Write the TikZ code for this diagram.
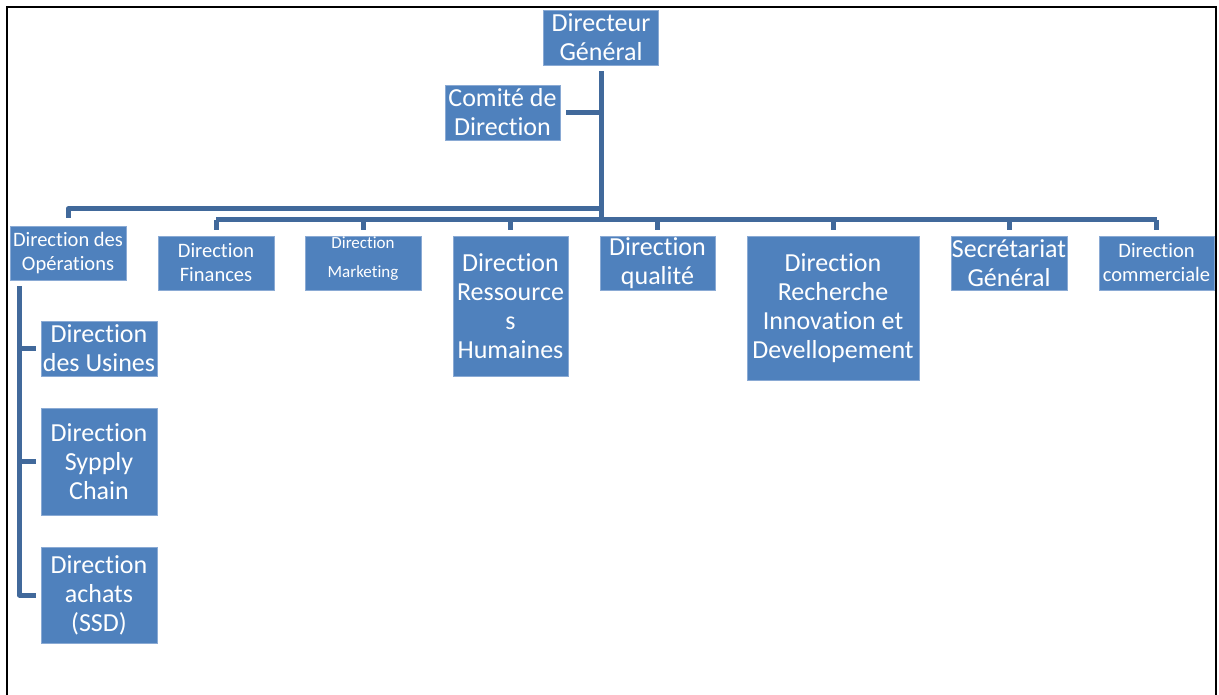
\documentclass[tikz,border=0pt]{standalone}
\usepackage{fontspec}
\setmainfont{Carlito}[RawFeature={-liga;-clig;-dlig;-calt}]
\usetikzlibrary{calc}
\definecolor{boxfill}{HTML}{4F81BD}
\definecolor{boxline}{HTML}{8AAAD4}
\definecolor{linkcol}{HTML}{41699B}
\begin{document}
\begin{tikzpicture}[x=1pt,y=-1pt,
  unit/.style={draw=boxline, line width=0.8pt, fill=boxfill, text=white,
    inner sep=0pt, align=center, font=\fontsize{26}{29}\selectfont},
  small/.style={font=\fontsize{20.5}{24}\selectfont},
  tiny/.style={font=\fontsize{17}{20}\selectfont},
  sz/.style n args={2}{minimum width=#1pt, minimum height=#2pt},
  conn/.style={draw=linkcol, line width=5pt, line join=round},
  frame/.style={draw=black, line width=1.6pt}]
\useasboundingbox (0,0) rectangle (1219,695);
\draw[frame] (7,695) -- (7,7) -- (1216,7) -- (1216,695);

% top of the chart
\node[unit, sz={115}{55}] (dg) at (601,37.5) {Directeur\\Général};
\node[unit, sz={115}{55}] (comite) at (502.5,112.5) {Comité de\\Direction};

% first level
\node[unit, small, sz={116}{54}] (ops) at (68,253) {Direction des\\Opérations};
\node[unit, small, sz={116}{54}] (fin) at (216,263) {Direction\\Finances};
\node[unit, tiny, sz={116}{54}] (mkt) at (363,263)
  {Direction\\[9pt]Marketing\rule[-12pt]{0pt}{12pt}};
\node[unit, sz={115}{140}] (rh) at (510.5,306) {Direction\\Ressource\\s\\Humaines};
\node[unit, sz={115}{54}] (qual) at (657.5,263) {Direction\\qualité};
\node[unit, sz={172}{144}] (rech) at (833,308) {Direction\\Recherche\\Innovation et\\Devellopement};
\node[unit, sz={116}{54}] (sec) at (1009,263) {Secrétariat\\Général};
\node[unit, small, sz={115}{54}] (com) at (1156.5,263) {Direction\\commerciale};

% operations column
\node[unit, sz={116}{55}] (usi) at (99,348.5) {Direction\\des Usines};
\node[unit, sz={116}{107}] (sup) at (99,461.5) {Direction\\Sypply\\Chain};
\node[unit, sz={116}{96}] (ach) at (99,595) {Direction\\achats\\(SSD)};

% connectors
\coordinate (jA) at (601,209);
\coordinate (jB) at (601,220);
\draw[conn, shorten <=6pt] (dg.south) -- (jB);
\draw[conn, shorten <=6pt] (comite.east) -- (comite.east -| jA);
\draw[conn, shorten >=8pt] (jA) -| (ops.north);
\draw[conn] (fin.north |- jB) -- (com.north |- jB);
\foreach \n in {fin,mkt,rh,qual,rech,sec,com}
  \draw[conn, shorten >=6pt] (\n.north |- jB) -- (\n.north);

\coordinate (colTop) at ($(ops.south west)+(10,6)$);
\draw[conn] (colTop) |- ($(ach.west)+(-5,0)$);
\draw[conn, shorten >=5pt] (colTop |- usi.west) -- (usi.west);
\draw[conn, shorten >=5pt] (colTop |- sup.west) -- (sup.west);
\end{tikzpicture}
\end{document}
